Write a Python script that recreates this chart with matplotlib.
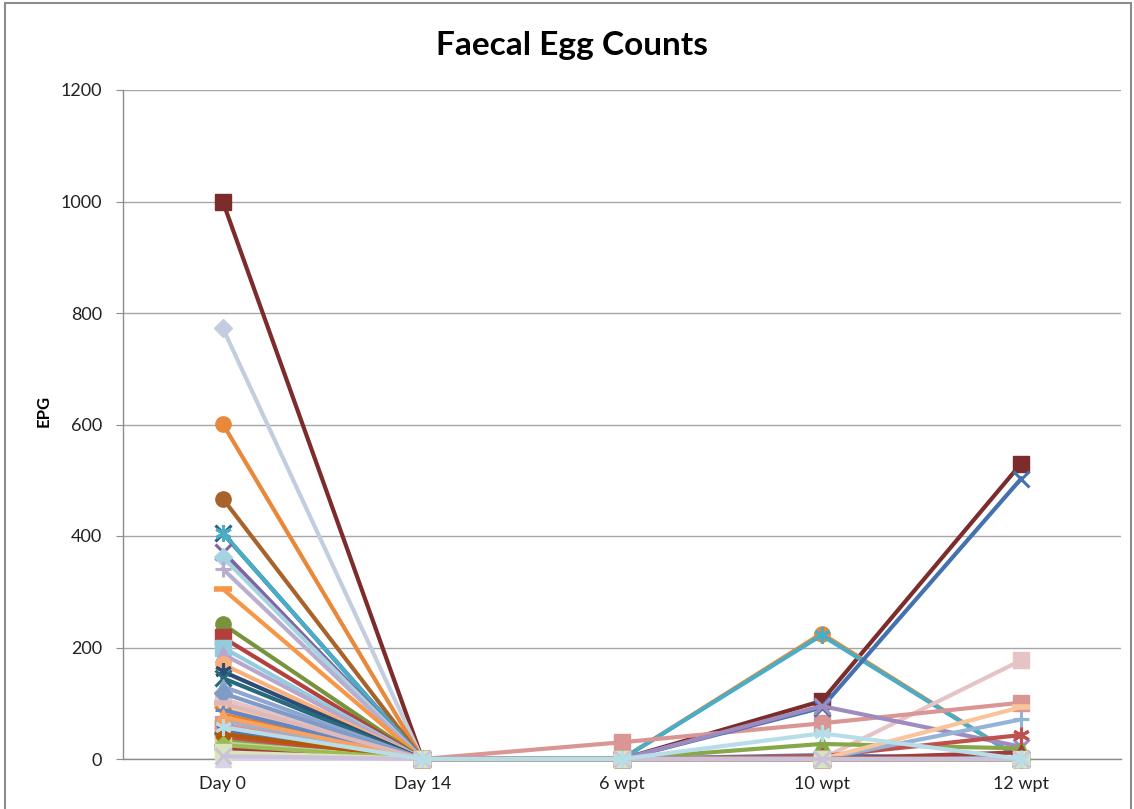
import numpy as np
import matplotlib
matplotlib.use("Agg")
import matplotlib.pyplot as plt
from matplotlib.patches import Rectangle

# sampling points
categories = ["Day 0", "Day 14", "6 wpt", "10 wpt", "12 wpt"]

# EPG per animal at each sampling point (same animal order in every list)
day0 = [1000, 773, 601, 467, 405, 405, 372, 362, 341, 305,
        242, 218, 200, 188, 170, 157, 145, 130, 108, 118,
        95, 80, 55, 62, 50, 47, 30, 35, 40, 70,
        20, 28, 45, 88, 75, 18, 100, 25, 8, 0,
        12, 5, 57]
day14 = [0] * len(day0)
wpt6 = [0] * 23 + [30] + [0] * 19
wpt10 = [104, 0, 225, 0, 0, 222, 0, 0, 0, 0,
         0, 0, 0, 0, 0, 0, 0, 0, 0, 0,
         0, 0, 0, 64, 92, 7, 95, 27, 5, 0,
         0, 0, 0, 0, 0, 0, 0, 0, 0, 0,
         0, 0, 46]
wpt12 = [530, 0, 0, 0, 0, 0, 0, 0, 0, 0,
         0, 0, 0, 0, 0, 0, 0, 0, 177, 0,
         0, 0, 0, 101, 503, 0, 22, 19, 43, 71,
         93, 0, 0, 0, 0, 12, 0, 0, 0, 0,
         0, 0, 0]

colours = ['#7B2C2B', '#C3CDE0', '#E8883A', '#A8632A', '#2C5F8A', '#4BACC6',
           '#8064A2', '#A5D3E0', '#B8AECF', '#F79646', '#77933C', '#B3403D',
           '#93CDDD', '#B7A7CE', '#FAB07B', '#2C4D75', '#276A7C', '#8EA5CF',
           '#E6C3C4', '#7F9CC9', '#FCC8A0', '#F07F22', '#C9847F', '#D99694',
           '#4472B0', '#4F81BD', '#9E8BBF', '#86A84A', '#C0504D', '#95B3D7',
           '#FBC39A', '#C3D69B', '#B65708', '#6088C6', '#F9A25F', '#A03C3A',
           '#DFB8B8', '#9BBB59', '#E0D8EA', '#D9D3E5', '#D7E4BD', '#CCC1DA',
           '#B7DEE8']
asterisk = (6, 2, 0)
markers = ['s', 'D', 'o', 'o', 'x', asterisk, 'x', 'D', '+', '_',
           'o', 's', 's', '^', 'o', asterisk, 'x', '^', 's', 'D',
           '_', 'x', 's', 's', 'x', 'D', 'x', '^', asterisk, '+',
           '_', 's', 'o', '+', '^', '^', '_', 'D', 'o', '^',
           's', 'x', asterisk]

plt.rcParams['font.family'] = ['Lato', 'DejaVu Sans']

fig = plt.figure(figsize=(11.34, 8.09), dpi=100)
ax = fig.add_axes([123 / 1134, 1 - 759 / 809, (1121 - 123) / 1134, (759 - 90) / 809])

x = np.arange(len(categories))
for i in range(len(day0)):
    y = [day0[i], day14[i], wpt6[i], wpt10[i], wpt12[i]]
    m = markers[i]
    ms = 11
    mew = 1
    if m in ('x', '+', asterisk):
        ms, mew = 12, 2.2
    elif m == '_':
        ms, mew = 13, 4
    elif m == 'D':
        ms = 9.5
    ax.plot(x, y, color=colours[i], lw=3, marker=m, ms=ms, mew=mew,
            mec=colours[i], mfc=colours[i], solid_joinstyle='round',
            clip_on=False, zorder=3)

ax.set_xlim(-0.5, len(categories) - 0.5)
ax.set_ylim(0, 1200)
ax.set_yticks(np.arange(0, 1201, 200))
ax.set_xticks(x)
ax.set_xticklabels(categories)
ax.yaxis.grid(True, color='#A6A6A6', lw=1)
ax.set_axisbelow(True)
for side in ('top', 'right'):
    ax.spines[side].set_visible(False)
for side in ('left', 'bottom'):
    ax.spines[side].set_color('#8C8C8C')
    ax.spines[side].set_linewidth(1)
ax.tick_params(axis='y', length=5, color='#8C8C8C', labelsize=13, pad=10,
               labelcolor='#222222')
ax.tick_params(axis='x', length=0, labelsize=13, pad=12, labelcolor='#222222')

ax.set_ylabel("EPG", fontsize=12, fontweight='bold')
ax.yaxis.set_label_coords((52 - 123) / 998, 0.52)
fig.text(572 / 1134, 1 - 45 / 809, "Faecal Egg Counts", ha='center', va='center',
         fontsize=24, fontweight='bold')

# chart frame
fig.patches.append(Rectangle((5 / 1134, -0.02), 1126 / 1134, 1.0 - 3 / 809 + 0.02,
                             transform=fig.transFigure, fill=False,
                             edgecolor='#8C8C8C', lw=1.5))

fig.savefig("out.png", dpi=100)
